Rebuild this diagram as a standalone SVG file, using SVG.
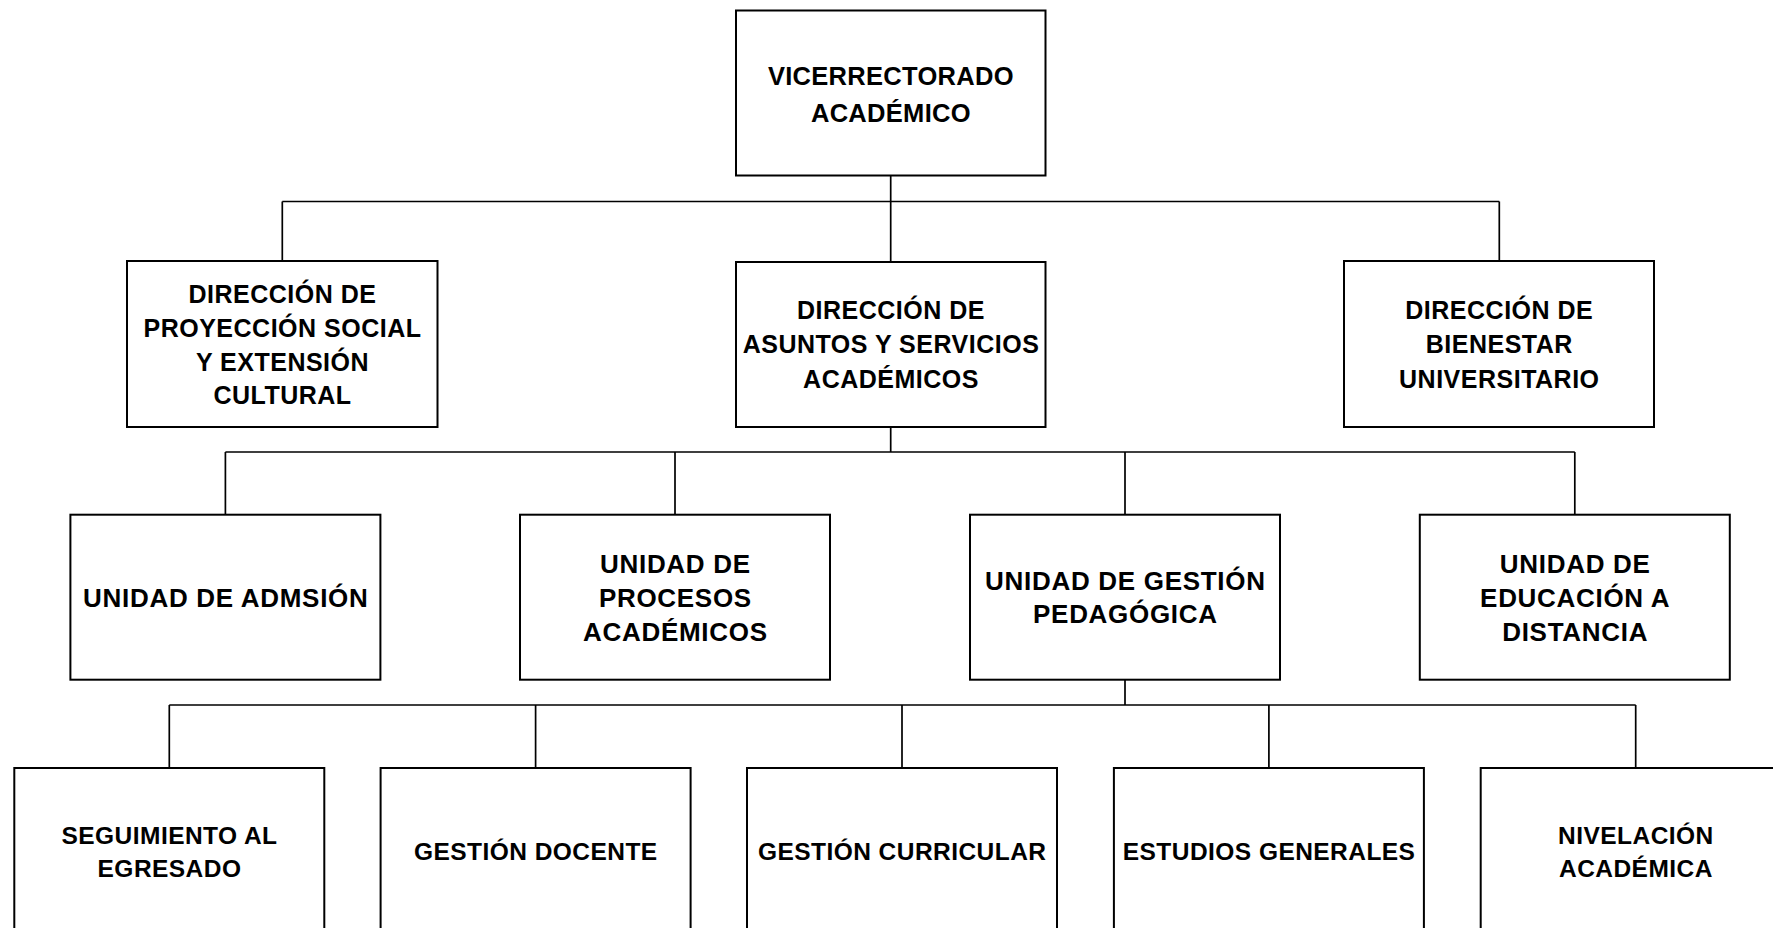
<svg xmlns="http://www.w3.org/2000/svg" width="1773" height="928" viewBox="0 0 1773 928">
<style>
.box{fill:#fff;stroke:#000;stroke-width:2}
.ln{fill:none;stroke:#000;stroke-width:1.7}
text{font-family:"Liberation Sans",Arial,sans-serif;font-weight:bold;fill:#000;text-anchor:middle}
.t1{font-size:25.5px;letter-spacing:0.3px}
.t2{font-size:25px;letter-spacing:0.5px}
.t3{font-size:26px;letter-spacing:0.7px}
.t4{font-size:24.5px;letter-spacing:0.45px}
</style>
<rect width="1773" height="928" fill="#fff"/>
<g id="connectors">
<path class="ln" d="M890.7 175.5V262M282.3 201.5H1499.3M282.3 201.5V261M1499.3 201.5V261"/>
<path class="ln" d="M890.7 427V452M225.4 452H1574.8M225.4 452V514.7M675 452V514.7M1125 452V514.7M1574.8 452V514.7"/>
<path class="ln" d="M1125 679.7V705M169.3 705H1635.7M169.3 705V768M535.6 705V768M902 705V768M1268.9 705V768M1635.7 705V768"/>
</g>
<g id="vicerrectorado">
<rect class="box" x="736" y="10.5" width="309.5" height="165"/>
<text class="t1" x="890.9" y="85">VICERRECTORADO</text>
<text class="t1" x="890.9" y="121.7">ACADÉMICO</text>
</g>
<g id="dir-proyeccion">
<rect class="box" x="127" y="261" width="310.5" height="166"/>
<text class="t2" x="282.5" y="303">DIRECCIÓN DE</text>
<text class="t2" x="282.5" y="337">PROYECCIÓN SOCIAL</text>
<text class="t2" x="282.5" y="370.5">Y EXTENSIÓN</text>
<text class="t2" x="282.5" y="404">CULTURAL</text>
</g>
<g id="dir-asuntos">
<rect class="box" x="736" y="262" width="309.5" height="165"/>
<text class="t2" x="891" y="319">DIRECCIÓN DE</text>
<text class="t2" x="891" y="353">ASUNTOS Y SERVICIOS</text>
<text class="t2" x="891" y="387.5">ACADÉMICOS</text>
</g>
<g id="dir-bienestar">
<rect class="box" x="1344" y="261" width="310" height="166"/>
<text class="t2" x="1499.3" y="319">DIRECCIÓN DE</text>
<text class="t2" x="1499.3" y="353">BIENESTAR</text>
<text class="t2" x="1499.3" y="387.5">UNIVERSITARIO</text>
</g>
<g id="u-admision">
<rect class="box" x="70.4" y="514.7" width="310" height="165"/>
<text class="t3" x="225.8" y="606.7">UNIDAD DE ADMSIÓN</text>
</g>
<g id="u-procesos">
<rect class="box" x="520" y="514.7" width="310" height="165"/>
<text class="t3" x="675.4" y="572.5">UNIDAD DE</text>
<text class="t3" x="675.4" y="606.5">PROCESOS</text>
<text class="t3" x="675.4" y="640.5">ACADÉMICOS</text>
</g>
<g id="u-gestion">
<rect class="box" x="970" y="514.7" width="310" height="165"/>
<text class="t3" x="1125.4" y="590">UNIDAD DE GESTIÓN</text>
<text class="t3" x="1125.4" y="623.3">PEDAGÓGICA</text>
</g>
<g id="u-distancia">
<rect class="box" x="1419.8" y="514.7" width="310" height="165"/>
<text class="t3" x="1575.2" y="572.5">UNIDAD DE</text>
<text class="t3" x="1575.2" y="606.5">EDUCACIÓN A</text>
<text class="t3" x="1575.2" y="640.5">DISTANCIA</text>
</g>
<g id="seguimiento">
<rect class="box" x="14.3" y="768" width="310" height="200"/>
<text class="t4" x="169.5" y="843.5">SEGUIMIENTO AL</text>
<text class="t4" x="169.5" y="877">EGRESADO</text>
</g>
<g id="gestion-docente">
<rect class="box" x="380.6" y="768" width="310" height="200"/>
<text class="t4" x="535.8" y="860">GESTIÓN DOCENTE</text>
</g>
<g id="gestion-curricular">
<rect class="box" x="747" y="768" width="310" height="200"/>
<text class="t4" x="902.2" y="860">GESTIÓN CURRICULAR</text>
</g>
<g id="estudios-generales">
<rect class="box" x="1113.9" y="768" width="310" height="200"/>
<text class="t4" x="1269.1" y="860">ESTUDIOS GENERALES</text>
</g>
<g id="nivelacion">
<rect class="box" x="1480.7" y="768" width="310" height="200"/>
<text class="t4" x="1635.9" y="843.5">NIVELACIÓN</text>
<text class="t4" x="1635.9" y="877">ACADÉMICA</text>
</g>
</svg>
